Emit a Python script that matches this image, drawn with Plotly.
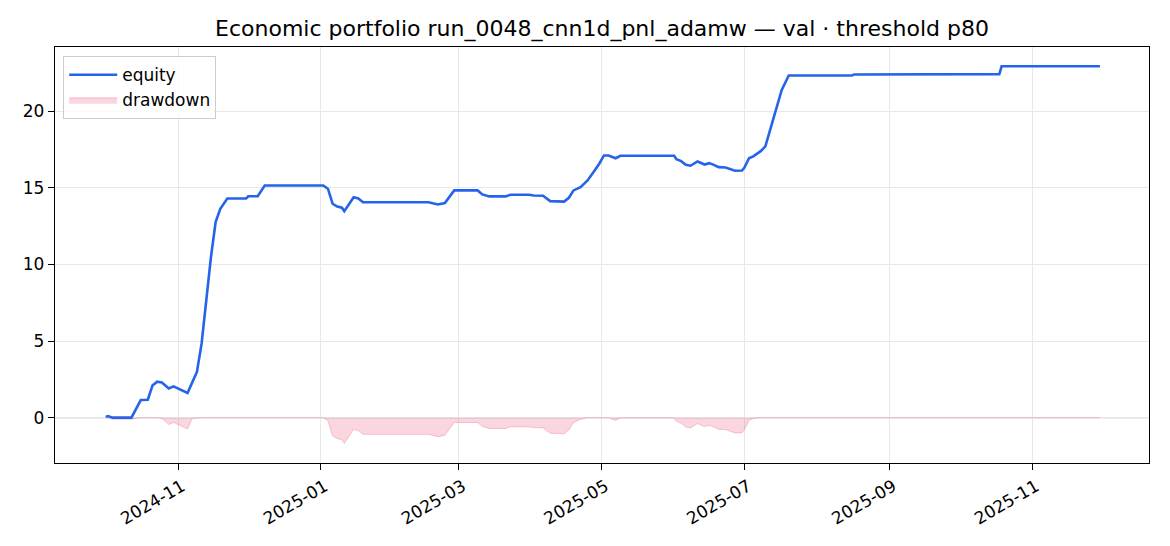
import numpy as np
import pandas as pd
import plotly.graph_objects as go

# ---- data ----
dates = [
    "2024-10-01", "2024-10-02", "2024-10-04", "2024-10-12", "2024-10-16", "2024-10-19",
    "2024-10-21", "2024-10-23", "2024-10-25", "2024-10-28", "2024-10-30", "2024-11-01",
    "2024-11-03", "2024-11-05", "2024-11-07", "2024-11-09", "2024-11-11", "2024-11-13",
    "2024-11-15", "2024-11-17", "2024-11-19", "2024-11-22", "2024-11-30", "2024-12-01",
    "2024-12-05", "2024-12-08",
    "2025-01-02", "2025-01-04", "2025-01-06", "2025-01-08", "2025-01-10", "2025-01-11",
    "2025-01-14", "2025-01-15", "2025-01-17", "2025-01-19", "2025-02-16", "2025-02-18",
    "2025-02-20", "2025-02-23", "2025-02-27", "2025-03-09", "2025-03-11", "2025-03-14",
    "2025-03-21", "2025-03-23", "2025-03-31", "2025-04-02", "2025-04-06", "2025-04-09",
    "2025-04-15", "2025-04-17", "2025-04-19", "2025-04-22", "2025-04-25", "2025-04-28",
    "2025-04-30", "2025-05-02", "2025-05-04", "2025-05-07", "2025-05-09", "2025-06-01",
    "2025-06-02", "2025-06-04", "2025-06-06", "2025-06-08", "2025-06-11", "2025-06-14",
    "2025-06-16", "2025-06-18", "2025-06-20", "2025-06-23", "2025-06-25", "2025-06-27",
    "2025-06-30", "2025-07-01", "2025-07-03", "2025-07-05", "2025-07-08", "2025-07-10",
    "2025-07-13", "2025-07-15", "2025-07-17", "2025-07-20", "2025-08-16", "2025-08-17",
    "2025-10-18", "2025-10-19", "2025-11-30",
]
equity = [
    0.05, 0.10, 0.00, 0.00, 1.15, 1.17,
    2.10, 2.35, 2.30, 1.90, 2.04, 1.91,
    1.78, 1.61, 2.30, 2.98, 4.83, 7.65,
    10.48, 12.76, 13.63, 14.30, 14.30, 14.45,
    14.45, 15.15,
    15.15, 14.94, 13.96, 13.78, 13.70, 13.47,
    14.17, 14.39, 14.30, 14.06, 14.06, 13.98,
    13.91, 14.00, 14.83, 14.83, 14.57, 14.44,
    14.44, 14.55, 14.55, 14.50, 14.48, 14.13,
    14.10, 14.35, 14.83, 15.04, 15.48, 16.13,
    16.57, 17.11, 17.11, 16.93, 17.09, 17.09,
    16.87, 16.74, 16.50, 16.44, 16.72, 16.52,
    16.61, 16.50, 16.35, 16.33, 16.20, 16.11,
    16.13, 16.31, 16.93, 17.07, 17.39, 17.70,
    19.28, 20.37, 21.39, 22.33, 22.33, 22.40,
    22.42, 22.93, 22.93,
]
x_tick_dates = ["2024-11-01", "2025-01-01", "2025-03-01", "2025-05-01",
                "2025-07-01", "2025-09-01", "2025-11-01"]
x_tick_labels = ["2024-11", "2025-01", "2025-03", "2025-05", "2025-07", "2025-09", "2025-11"]
y_tick_vals = [0, 5, 10, 15, 20]
title_text = "Economic portfolio run_0048_cnn1d_pnl_adamw — val · threshold p80"

# drawdown derived from the equity curve (equity minus running peak)
eq = np.array(equity)
drawdown = eq - np.maximum.accumulate(eq)
x = pd.to_datetime(dates)

FONT = "DejaVu Sans"

fig = go.Figure()
fig.add_trace(go.Scatter(
    x=x, y=drawdown, name="drawdown", mode="lines",
    fill="tozeroy", fillcolor="rgba(225,29,72,0.18)",
    line=dict(color="rgba(225,29,72,0.22)", width=1),
))
fig.add_trace(go.Scatter(
    x=x, y=equity, name="equity", mode="lines",
    line=dict(color="#2563EB", width=2.6),
))

fig.add_shape(type="line", xref="paper", x0=0, x1=1, yref="y", y0=0, y1=0,
              line=dict(color="rgba(120,130,150,0.6)", width=1.2), layer="below")

fig.update_layout(
    width=1170, height=546,
    margin=dict(l=55, r=21, t=47, b=83),
    paper_bgcolor="white", plot_bgcolor="white",
    font=dict(family=FONT, size=17, color="black"),
    title=dict(text=title_text, x=0.5, xref="paper", xanchor="center",
               y=1 - 28 / 546, yref="container", yanchor="middle",
               font=dict(family=FONT, size=22, color="black")),
    showlegend=True,
    legend=dict(x=0.0075, y=0.978, xanchor="left", yanchor="top",
                bgcolor="rgba(255,255,255,0.8)", bordercolor="#cccccc", borderwidth=1,
                font=dict(family=FONT, size=17, color="black"),
                traceorder="reversed", tracegroupgap=0, itemwidth=48),
)
fig.update_xaxes(
    range=["2024-09-09 08:00", "2025-12-21"],
    tickvals=pd.to_datetime(x_tick_dates), ticktext=x_tick_labels,
    tickangle=-30, ticks="outside", ticklen=6, tickwidth=1.3, tickcolor="black",
    ticklabelshift=4,
    showline=True, linecolor="black", linewidth=1.3, mirror=True,
    showgrid=True, gridcolor="#e8e8e8", gridwidth=1, zeroline=False,
    tickfont=dict(family=FONT, size=17, color="black"), automargin=False,
)
fig.update_yaxes(
    range=[-2.96, 24.19], tickvals=y_tick_vals,
    ticks="outside", ticklen=6, tickwidth=1.3, tickcolor="black",
    showline=True, linecolor="black", linewidth=1.3, mirror=True,
    showgrid=True, gridcolor="#e8e8e8", gridwidth=1, zeroline=False,
    tickfont=dict(family=FONT, size=17, color="black"), automargin=False,
)

fig.write_html("out.html", config={"displayModeBar": False},
               post_script="document.body.style.margin='0';document.body.style.overflow='hidden';")
